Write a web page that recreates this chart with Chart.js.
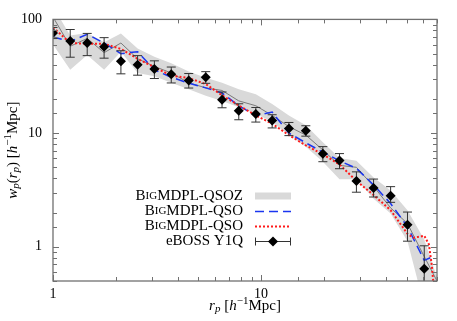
<!DOCTYPE html>
<html>
<head>
<meta charset="utf-8">
<script src="https://cdn.jsdelivr.net/npm/chart.js@4.4.0/dist/chart.umd.min.js"></script>
<style>
html, body { margin: 0; padding: 0; background: #fff; }
</style>
</head>
<body>
<canvas id="c" width="457" height="321"></canvas>
<script>
// eBOSS Y1Q measurements (r_p bins, w_p, error bar ends)
var rp   = [1.0, 1.21, 1.46, 1.76, 2.12, 2.55, 3.07, 3.70, 4.49, 5.42, 6.49, 7.81, 9.43, 11.3, 13.6, 16.4, 19.8, 23.8, 28.7, 34.7, 41.9, 50.5, 60.8];
var wp   = [76, 64.7, 61.9, 57.4, 42.9, 39.9, 36.6, 32.9, 29.0, 31.0, 19.6, 15.7, 14.7, 12.9, 11.0, 10.5, 6.59, 5.74, 3.78, 3.29, 2.81, 1.56, 0.64];
var wpLo = [67.8, 46.5, 48.0, 45.6, 33.2, 32.3, 30.2, 27.6, 24.9, 27.4, 16.7, 13.1, 12.5, 11.1, 9.5, 9.4, 5.6, 4.86, 3.02, 2.74, 2.46, 1.12, 0.3];
var wpHi = [85, 81.5, 75.3, 69.1, 53, 48, 43.2, 38.1, 33.4, 34.7, 23, 18.1, 16.8, 14.5, 12.4, 11.6, 7.6, 6.6, 4.56, 3.94, 3.38, 2.02, 1.02];

// BigMDPL-QSOZ: band and median
var zR   = [1.0, 1.21, 1.46, 1.76, 2.12, 2.55, 3.07, 3.70, 4.49, 5.42, 6.49, 7.81, 9.43, 11.3, 13.6, 16.4, 19.8, 23.8, 28.7, 34.7, 41.9, 50.5, 60.8, 70];
var zLo  = [60, 36, 48.6, 36, 52, 33.8, 31.6, 27.7, 24.3, 21.3, 19.2, 16.9, 14.8, 12.5, 9.6, 7.6, 5.6, 3.93, 3.93, 2.64, 1.96, 1.12, 0.3, 0.3];
var zHi  = [130, 72, 76, 63, 75, 55.6, 47, 41.2, 34.9, 30.6, 27.7, 24.3, 22, 18, 14.3, 11.7, 8.3, 6.05, 5.7, 4.07, 3.12, 2.1, 1.16, 0.54];
var zMid = [105, 58, 68, 51, 62, 45, 38.6, 33.8, 27.7, 25, 23.7, 19.2, 17.4, 14.3, 11.4, 9.6, 7.1, 5.2, 5.0, 3.4, 2.2, 1.6, 0.82, 0.5];

// BigMDPL-QSO (blue dashed)
var bR  = [1.0, 1.21, 1.46, 1.76, 2.12, 2.55, 3.07, 3.70, 4.49, 5.42, 6.49, 7.81, 9.43, 11.3, 13.6, 16.4, 19.8, 23.8, 28.7, 34.7, 41.9, 50.5, 60.8, 65];
var bWp = [70, 64, 74, 62, 50, 52, 36, 31, 27.5, 25, 22.5, 17.4, 14.2, 15.3, 10, 8.2, 6.8, 5.7, 4.9, 3.5, 2.4, 1.5, 0.76, 0.8];

// BigMDPL-QSO (red dotted)
var rR  = [1.0, 1.21, 1.46, 1.76, 2.12, 2.55, 3.07, 3.70, 4.49, 5.42, 6.49, 7.81, 9.43, 11.3, 13.6, 16.4, 19.8, 23.8, 28.7, 34.7, 41.9, 50.5, 54, 60.8, 64, 66, 67.5];
var rWp = [85, 62, 61, 61, 55, 45, 38, 32, 30.5, 27, 21.5, 17.5, 14.3, 12.1, 9.6, 7.8, 6.5, 5.3, 3.8, 2.85, 2.1, 1.3, 1.2, 1.25, 1.05, 0.7, 0.45];

var xTickLabels = [1, 10];
var yTickLabels = [1, 10, 100];

function pts(xs, ys) {
  return xs.map(function (x, i) { return { x: x, y: ys[i] }; });
}

var SERIF = '"Liberation Serif", "DejaVu Serif", serif';
var AXIS = '#707070';

function isDecade(v) {
  var l = Math.log10(v);
  return Math.abs(l - Math.round(l)) < 1e-6;
}

// inward ticks on all four sides + frame
var frame = {
  id: 'frame',
  afterDraw: function (chart) {
    var ctx = chart.ctx, a = chart.chartArea;
    var xs = chart.scales.x, ys = chart.scales.y;
    ctx.save();
    ctx.strokeStyle = AXIS;
    ctx.lineWidth = 1;
    xs.ticks.forEach(function (t) {
      var px = Math.round(xs.getPixelForValue(t.value)) + 0.5;
      var len = isDecade(t.value) ? 6 : 4;
      ctx.beginPath();
      ctx.moveTo(px, a.bottom); ctx.lineTo(px, a.bottom - len);
      ctx.moveTo(px, a.top); ctx.lineTo(px, a.top + len);
      ctx.stroke();
    });
    ys.ticks.forEach(function (t) {
      var py = Math.round(ys.getPixelForValue(t.value)) + 0.5;
      var len = isDecade(t.value) ? 6 : 4;
      ctx.beginPath();
      ctx.moveTo(a.left, py); ctx.lineTo(a.left + len, py);
      ctx.moveTo(a.right, py); ctx.lineTo(a.right - len, py);
      ctx.stroke();
    });
    ctx.lineWidth = 1.3;
    ctx.strokeRect(a.left, a.top, a.right - a.left, a.bottom - a.top);
    ctx.restore();
  }
};

// error bars drawn under the diamonds
var errorBars = {
  id: 'errorBars',
  beforeDatasetDraw: function (chart, args) {
    if (args.index !== 4) return;
    var ctx = chart.ctx, a = chart.chartArea;
    var xs = chart.scales.x, ys = chart.scales.y;
    ctx.save();
    ctx.beginPath();
    ctx.rect(a.left, a.top, a.right - a.left, a.bottom - a.top);
    ctx.clip();
    ctx.strokeStyle = '#333';
    ctx.lineWidth = 1;
    rp.forEach(function (x, i) {
      var px = xs.getPixelForValue(x);
      var yLo = ys.getPixelForValue(wpLo[i]);
      var yHi = ys.getPixelForValue(wpHi[i]);
      ctx.beginPath();
      ctx.moveTo(px, yLo); ctx.lineTo(px, yHi);
      ctx.moveTo(px - 4.5, yLo); ctx.lineTo(px + 4.5, yLo);
      ctx.moveTo(px - 4.5, yHi); ctx.lineTo(px + 4.5, yHi);
      ctx.stroke();
    });
    ctx.restore();
  }
};

function drawRuns(ctx, runs, x, y, align) {
  var w = 0;
  runs.forEach(function (r) { ctx.font = r.f; w += ctx.measureText(r.t).width; });
  var cx = align === 'right' ? x - w : (align === 'center' ? x - w / 2 : x);
  runs.forEach(function (r) {
    ctx.font = r.f;
    ctx.fillText(r.t, cx, y + (r.dy || 0));
    cx += ctx.measureText(r.t).width;
  });
}

function bigName(fs) {
  return [
    { t: 'B', f: fs + 'px ' + SERIF },
    { t: 'IG', f: Math.round(fs * 0.76) + 'px ' + SERIF },
    { t: 'MDPL-QSO', f: fs + 'px ' + SERIF }
  ];
}

// legend + axis titles
var annotations = {
  id: 'annotations',
  afterDraw: function (chart) {
    var ctx = chart.ctx, a = chart.chartArea;
    ctx.save();
    ctx.fillStyle = '#000';
    ctx.textBaseline = 'middle';

    var tx = 243, sx0 = 255, sx1 = 291;
    var rows = [196, 211, 226, 241];

    var n1 = bigName(15); n1[2].t = 'MDPL-QSOZ';
    drawRuns(ctx, n1, tx, rows[0], 'right');
    drawRuns(ctx, bigName(15), tx, rows[1], 'right');
    drawRuns(ctx, bigName(15), tx, rows[2], 'right');
    drawRuns(ctx, [{ t: 'eBOSS Y1Q', f: '15px ' + SERIF }], tx, rows[3], 'right');

    ctx.fillStyle = '#d9d9d9';
    ctx.fillRect(sx0, rows[0] - 3.5, sx1 - sx0, 7);

    ctx.lineWidth = 1.5;
    ctx.strokeStyle = '#1a35f0';
    ctx.setLineDash([9, 5]);
    ctx.beginPath(); ctx.moveTo(sx0, rows[1] + 0.5); ctx.lineTo(sx1, rows[1] + 0.5); ctx.stroke();

    ctx.strokeStyle = '#ff1a1a';
    ctx.lineWidth = 2;
    ctx.setLineDash([2, 2]);
    ctx.beginPath(); ctx.moveTo(sx0, rows[2] + 0.5); ctx.lineTo(sx1, rows[2] + 0.5); ctx.stroke();

    ctx.setLineDash([]);
    ctx.strokeStyle = '#333';
    ctx.lineWidth = 1;
    var ey = rows[3] + 0.5;
    ctx.beginPath();
    ctx.moveTo(sx0, ey); ctx.lineTo(sx1, ey);
    ctx.moveTo(sx0 + 0.5, ey - 4); ctx.lineTo(sx0 + 0.5, ey + 4);
    ctx.moveTo(sx1 - 0.5, ey - 4); ctx.lineTo(sx1 - 0.5, ey + 4);
    ctx.stroke();
    var mx = (sx0 + sx1) / 2;
    ctx.fillStyle = '#000';
    ctx.beginPath();
    ctx.moveTo(mx, ey - 5); ctx.lineTo(mx + 5, ey); ctx.lineTo(mx, ey + 5); ctx.lineTo(mx - 5, ey);
    ctx.closePath(); ctx.fill();

    // axis titles
    var it = 'italic 15px ' + SERIF, rm = '15px ' + SERIF;
    var itS = 'italic 11px ' + SERIF, rmS = '11px ' + SERIF;
    drawRuns(ctx, [
      { t: 'r', f: it }, { t: 'p', f: itS, dy: 3 }, { t: ' [', f: rm },
      { t: 'h', f: it }, { t: '\u22121', f: rmS, dy: -5 }, { t: 'Mpc]', f: rm }
    ], (a.left + a.right) / 2, 306, 'center');

    ctx.translate(13, (a.top + a.bottom) / 2);
    ctx.rotate(-Math.PI / 2);
    drawRuns(ctx, [
      { t: 'w', f: it }, { t: 'p', f: itS, dy: 3 }, { t: '(', f: rm },
      { t: 'r', f: it }, { t: 'p', f: itS, dy: 3 }, { t: ') [', f: rm },
      { t: 'h', f: it }, { t: '\u22121', f: rmS, dy: -5 }, { t: 'Mpc]', f: rm }
    ], 0, 0, 'center');
    ctx.restore();
  }
};

new Chart(document.getElementById('c'), {
  type: 'scatter',
  data: {
    datasets: [
      { order: 6, data: pts(zR, zLo), showLine: true, borderWidth: 0, pointRadius: 0, fill: false, borderColor: 'rgba(0,0,0,0)' },
      { order: 5, data: pts(zR, zHi), showLine: true, borderWidth: 0, pointRadius: 0, fill: '-1', backgroundColor: '#d9d9d9', borderColor: 'rgba(0,0,0,0)' },
      { order: 4, data: pts(zR, zMid), showLine: true, borderWidth: 1, pointRadius: 0, borderColor: '#7a7a7a' },
      { order: 3, data: pts(bR, bWp), showLine: true, borderWidth: 1.5, pointRadius: 0, borderColor: '#1a35f0', borderDash: [9, 5] },
      { order: 0, data: pts(rp, wp), showLine: false, pointStyle: 'rectRot', pointRadius: 5, backgroundColor: '#000', borderColor: '#000', borderWidth: 0 },
      { order: 2, data: pts(rR, rWp), showLine: true, borderWidth: 2, pointRadius: 0, borderColor: '#ff1a1a', borderDash: [2, 2] }
    ]
  },
  options: {
    responsive: false,
    animation: false,
    devicePixelRatio: 1,
    layout: { padding: { left: 0, right: 20, top: 13, bottom: 0 } },
    plugins: {
      legend: { display: false },
      tooltip: { enabled: false },
      filler: { drawTime: 'beforeDatasetsDraw' }
    },
    scales: {
      x: {
        type: 'logarithmic', min: 1, max: 70,
        grid: { display: false, drawTicks: false },
        border: { display: false },
        ticks: {
          autoSkip: false, maxRotation: 0, padding: 5, color: '#000',
          font: { family: SERIF, size: 14 },
          callback: function (v) { return xTickLabels.indexOf(Math.round(v * 1000) / 1000) >= 0 ? String(v) : ''; }
        },
        afterFit: function (s) { s.height = 40; }
      },
      y: {
        type: 'logarithmic', min: 0.5, max: 100,
        grid: { display: false, drawTicks: false },
        border: { display: false },
        ticks: {
          autoSkip: false, padding: 11, color: '#000',
          font: { family: SERIF, size: 14 },
          callback: function (v) { return yTickLabels.indexOf(Math.round(v * 1000) / 1000) >= 0 ? String(v) : ''; }
        },
        afterFit: function (s) { s.width = 53; }
      }
    }
  },
  plugins: [errorBars, frame, annotations]
});
</script>
</body>
</html>
